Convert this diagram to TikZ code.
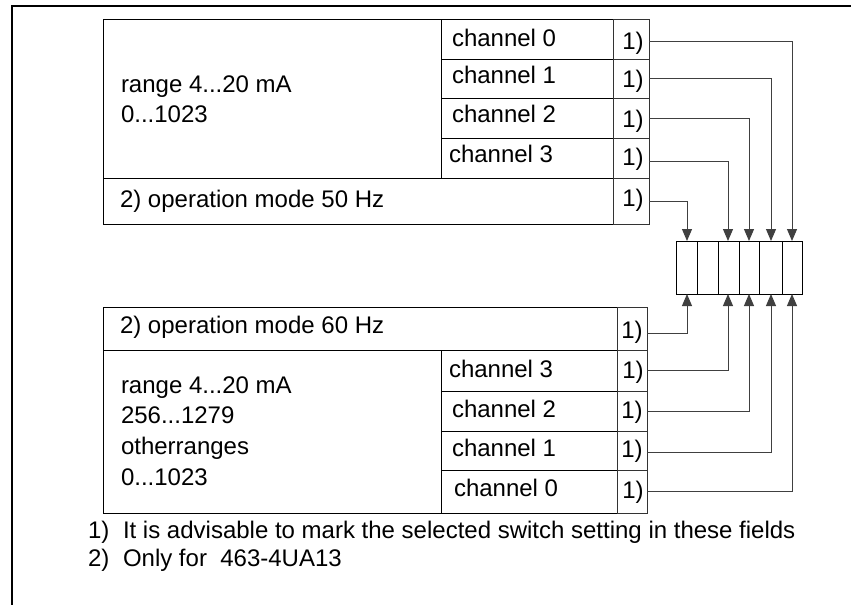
\documentclass[tikz,border=0pt]{standalone}
\usepackage{fontspec}
\setmainfont{Liberation Sans}
\usetikzlibrary{arrows.meta}
\newcommand\mycell[6][]{\node[cell,#1,minimum width={#5-#3},minimum height={#6-#4}] (#2) at ({(#3+#5)/2},{(#4+#6)/2}) {};}
\begin{document}
\begin{tikzpicture}[x=1pt,y=-1pt,
  font=\fontsize{24pt}{28pt}\selectfont,
  cell/.style={draw=black,line width=1pt,rectangle,inner sep=0pt,outer sep=0pt},
  onecol/.style={draw=black!80},
  txt/.style={inner sep=0pt,outer sep=0pt,anchor=base west},
  onetxt/.style={inner sep=0pt,outer sep=0pt,anchor=base},
  conn/.style={draw=black!75,line width=1pt,-{Triangle[length=12pt,width=10pt]}},
  frame/.style={draw=black,line width=1.3pt}]
\useasboundingbox (0,0) rectangle (851,605);
% outer frame
\coordinate (fa) at (851,6);
\coordinate (fb) at (12,6);
\coordinate (fc) at (12,605);
\draw[frame] (fa) -- (fb) -- (fc);

% ---------- upper block ----------
\mycell{urange}{103}{19}{441}{178}
\mycell{uc0}{441}{19}{613}{59}
\mycell{uc1}{441}{59}{613}{98}
\mycell{uc2}{441}{98}{613}{138}
\mycell{uc3}{441}{138}{613}{178}
\mycell[onecol]{uo0}{613}{19}{649}{59}
\mycell[onecol]{uo1}{613}{59}{649}{98}
\mycell[onecol]{uo2}{613}{98}{649}{138}
\mycell[onecol]{uo3}{613}{138}{649}{178}
\mycell{uop}{103}{178}{613}{224}
\mycell[onecol]{uoop}{613}{178}{649}{224}

\node[txt] (tur1) at (121,92) {range 4...20 mA};
\node[txt] (tur2) at (121,122) {0...1023};
\node[txt] (tuc0) at (452,46.5) {channel 0};
\node[txt] (tuc1) at (452,83) {channel 1};
\node[txt] (tuc2) at (452,122.5) {channel 2};
\node[txt] (tuc3) at (449,162) {channel 3};
\node[txt] (tuop) at (120,207) {2) operation mode 50 Hz};
\node[onetxt] (tuo0) at (633,49) {1)};
\node[onetxt] (tuo1) at (633,87) {1)};
\node[onetxt] (tuo2) at (633,127) {1)};
\node[onetxt] (tuo3) at (633,165) {1)};
\node[onetxt] (tuoop) at (633,206) {1)};

% ---------- switch ----------
\mycell{s1}{676}{241}{697}{294}
\mycell{s2}{697}{241}{718}{294}
\mycell{s3}{718}{241}{739}{294}
\mycell{s4}{739}{241}{759}{294}
\mycell{s5}{759}{241}{782}{294}
\mycell{s6}{782}{241}{802}{294}

% ---------- lower block ----------
\mycell{lop}{103}{307}{617}{350}
\mycell[onecol]{loop}{617}{307}{647}{350}
\mycell{lrange}{103}{350}{441}{513}
\mycell{lc3}{441}{350}{617}{391}
\mycell{lc2}{441}{391}{617}{431}
\mycell{lc1}{441}{431}{617}{470}
\mycell{lc0}{441}{470}{617}{513}
\mycell[onecol]{lo3}{617}{350}{647}{391}
\mycell[onecol]{lo2}{617}{391}{647}{431}
\mycell[onecol]{lo1}{617}{431}{647}{470}
\mycell[onecol]{lo0}{617}{470}{647}{513}

\node[txt] (tlop) at (120,333) {2) operation mode 60 Hz};
\node[txt] (tlr1) at (121,393) {range 4...20 mA};
\node[txt] (tlr2) at (121,423) {256...1279};
\node[txt] (tlr3) at (121,454) {otherranges};
\node[txt] (tlr4) at (121,485) {0...1023};
\node[txt] (tlc3) at (449,377) {channel 3};
\node[txt] (tlc2) at (452,417) {channel 2};
\node[txt] (tlc1) at (452,456) {channel 1};
\node[txt] (tlc0) at (454,496) {channel 0};
\node[onetxt] (tloop) at (632,338) {1)};
\node[onetxt] (tlo3) at (633,378) {1)};
\node[onetxt] (tlo2) at (632,418) {1)};
\node[onetxt] (tlo1) at (632,457) {1)};
\node[onetxt] (tlo0) at (633,498) {1)};

% ---------- connectors ----------
\draw[conn] ([yshift=-2pt]uo0.east) -| (s6.north);
\draw[conn] (uo1.east) -| ([xshift=0.5pt]s5.north);
\draw[conn] (uo2.east) -| (s4.north);
\draw[conn] ([yshift=-3pt]uo3.east) -| ([xshift=-0.5pt]s3.north);
\draw[conn] (uoop.east) -| ([xshift=0.5pt]s1.north);

\draw[conn] ([yshift=-4.5pt]loop.east) -| ([xshift=0.5pt]s1.south);
\draw[conn] (lo3.east) -| ([xshift=-0.5pt]s3.south);
\draw[conn] (lo2.east) -| (s4.south);
\draw[conn] ([yshift=-1.5pt]lo1.east) -| ([xshift=0.5pt]s5.south);
\draw[conn] (lo0.east) -| (s6.south);

% ---------- footnotes ----------
\node[txt] (f1n) at (88,538) {1)};
\node[txt] (f1t) at (123,538) {It is advisable to mark the selected switch setting in these fields};
\node[txt] (f2n) at (88,566) {2)};
\node[txt] (f2t) at (123,566) {Only for\ \ 463-4UA13};
\end{tikzpicture}
\end{document}
